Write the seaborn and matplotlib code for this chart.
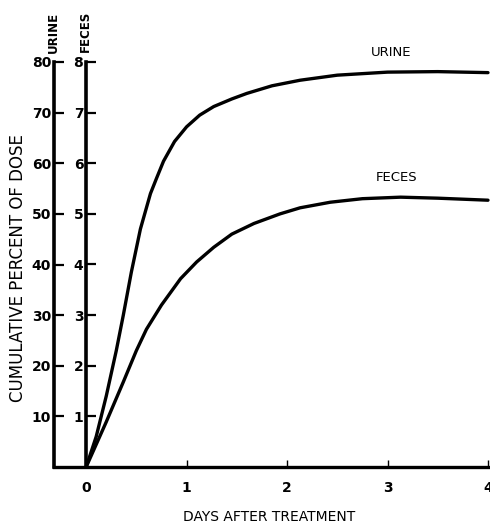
import numpy as np
import pandas as pd
import matplotlib
matplotlib.use('Agg')
import matplotlib.pyplot as plt
import seaborn as sns

# values (urine in % of dose, feces in % of dose on the 0-8 scale)
urine_days = [0, 0.1, 0.2, 0.3, 0.37, 0.45, 0.54, 0.64, 0.7, 0.77, 0.88, 1.0, 1.13, 1.27,
              1.45, 1.6, 1.85, 2.13, 2.5, 3.0, 3.5, 4.0]
urine_pct = [0, 6, 14, 23, 30, 38.5, 47, 54, 57, 60.4, 64.3, 67.2, 69.5, 71.2,
             72.7, 73.8, 75.3, 76.4, 77.4, 78.0, 78.1, 77.9]

feces_days = [0, 0.2, 0.37, 0.5, 0.6, 0.75, 0.94, 1.1, 1.27, 1.45, 1.67, 1.93, 2.13, 2.43,
              2.75, 3.13, 3.5, 4.0]
feces_pct = [0, 0.89, 1.68, 2.3, 2.72, 3.2, 3.72, 4.05, 4.34, 4.6, 4.81, 5.0, 5.12, 5.23,
             5.3, 5.33, 5.31, 5.27]

urine_ticks = [10, 20, 30, 40, 50, 60, 70, 80]
feces_ticks = [1, 2, 3, 4, 5, 6, 7, 8]
day_ticks = [0, 1, 2, 3, 4]

sns.set_style('ticks')
plt.rcParams['font.family'] = ['DejaVu Sans']
plt.rcParams['axes.edgecolor'] = 'black'
plt.rcParams['xtick.color'] = 'black'
plt.rcParams['ytick.color'] = 'black'
plt.rcParams['text.color'] = 'black'

W, H = 490, 525
fig = plt.figure(figsize=(W / 100, H / 100), dpi=100)
ax = fig.add_axes([54 / W, 1 - 467 / H, (490 - 54) / W, (467 - 62) / H])
ax2 = ax.twinx()

urine = pd.DataFrame({'day': urine_days, 'pct': urine_pct})
feces = pd.DataFrame({'day': feces_days, 'pct': feces_pct})

sns.lineplot(data=urine, x='day', y='pct', ax=ax, color='black', lw=2.4,
             clip_on=False, solid_joinstyle='round')
sns.lineplot(data=feces, x='day', y='pct', ax=ax2, color='black', lw=2.4,
             clip_on=False, solid_joinstyle='round')

ax.set_xlim(-0.32, 4.02)
ax.set_ylim(0, 80)
ax2.set_ylim(0, 8)

for a in (ax, ax2):
    a.set_xlabel('')
    a.set_ylabel('')
    a.spines['top'].set_visible(False)
    a.spines['right'].set_visible(False)
    a.spines['left'].set_linewidth(2.6)
    a.spines['bottom'].set_linewidth(2.4)

ax2.spines['bottom'].set_visible(False)
ax2.spines['left'].set_visible(True)
ax2.spines['left'].set_position(('data', 0))
ax2.yaxis.set_ticks_position('left')

ax.set_yticks(urine_ticks)
ax2.set_yticks(feces_ticks)
ax.set_xticks(day_ticks)

ax.tick_params(axis='y', direction='in', length=7, width=1.6, labelsize=10, pad=2)
ax2.tick_params(axis='y', direction='in', length=7, width=1.6, labelsize=10, pad=2)
ax.tick_params(axis='x', direction='in', length=5, width=1, labelsize=10, pad=10)
for lbl in ax.get_yticklabels() + ax2.get_yticklabels() + ax.get_xticklabels():
    lbl.set_fontweight('bold')

# axis titles
fig.text(18 / W, 1 - 268 / H, 'CUMULATIVE PERCENT OF DOSE', rotation=90,
         ha='center', va='center', fontsize=12)
fig.text(269 / W, 1 - 517 / H, 'DAYS AFTER TREATMENT', ha='center', va='center', fontsize=10)
fig.text(53 / W, 1 - 32 / H, 'URINE', rotation=90, ha='center', va='center',
         fontsize=8.5, fontweight='bold')
fig.text(85 / W, 1 - 31 / H, 'FECES', rotation=90, ha='center', va='center',
         fontsize=8.5, fontweight='bold')

# curve labels
ax.text(3.04, 81.8, 'URINE', ha='center', va='center', fontsize=9.5, clip_on=False)
ax.text(3.09, 57.1, 'FECES', ha='center', va='center', fontsize=9.5)

fig.savefig('out.png', dpi=100)
